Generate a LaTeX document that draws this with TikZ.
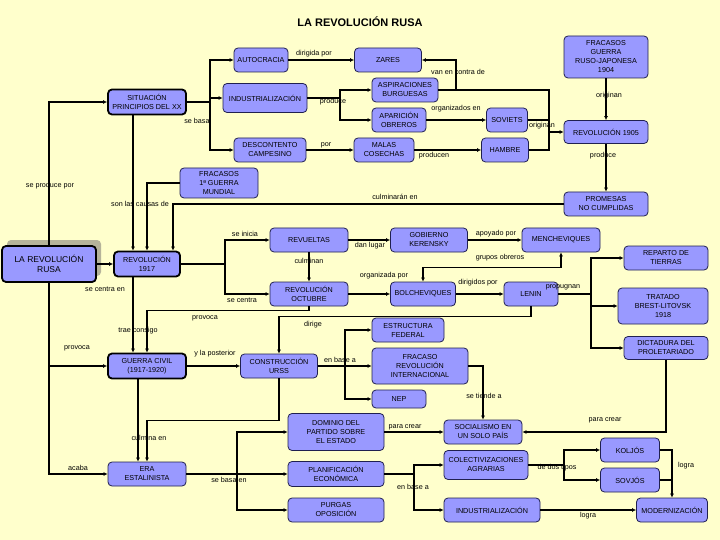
\documentclass[tikz,border=0pt]{standalone}
\usepackage{fontspec}
\setmainfont{Liberation Sans}
\usetikzlibrary{arrows.meta,shadows}
\definecolor{fondo}{HTML}{FFFFCC}
\definecolor{lila}{HTML}{9999FF}
\definecolor{borde}{HTML}{202050}
\definecolor{sombra}{HTML}{B5B39A}
\begin{document}
\begin{tikzpicture}[x=1pt, y=-1pt,
    concepto/.style={draw=borde, line width=0.8pt, fill=lila, rounded corners=4pt, align=center, inner sep=1pt, font=\fontsize{7.2}{9}\selectfont},
    principal/.style={concepto, draw=black, line width=1.8pt},
    enlace/.style={font=\fontsize{7.2}{9}\selectfont, inner sep=1pt},
    flecha/.style={-{Latex[length=4pt,width=4pt]}, line width=1.6pt},
    dobleflecha/.style={{Latex[length=4pt,width=4pt]}-{Latex[length=4pt,width=4pt]}, line width=1.6pt},
    linea/.style={line width=1.6pt}
]
\fill[fondo] (0,0) rectangle (720,540);
\node[font=\bfseries\fontsize{11}{13}\selectfont] (titulo) at (360,22) {LA REVOLUCIÓN RUSA};

% causas
\node[concepto, minimum width=54pt, minimum height=24pt] (autocracia) at (261,60) {AUTOCRACIA};
\node[concepto, minimum width=67pt, minimum height=24pt] (zares) at (388,60) {ZARES};
\node[principal, minimum width=78pt, minimum height=25pt] (situacion) at (147,102) {SITUACIÓN\\PRINCIPIOS DEL XX};
\node[concepto, minimum width=84pt, minimum height=29pt] (industrializacion) at (265,98) {INDUSTRIALIZACIÓN};
\node[concepto, minimum width=66pt, minimum height=24pt] (aspiraciones) at (405,90) {ASPIRACIONES\\BURGUESAS};
\node[concepto, minimum width=54pt, minimum height=24pt] (aparicion) at (399,120) {APARICIÓN\\OBREROS};
\node[concepto, minimum width=72pt, minimum height=24pt] (descontento) at (270,150) {DESCONTENTO\\CAMPESINO};
\node[concepto, minimum width=60pt, minimum height=24pt] (malas) at (384,150) {MALAS\\COSECHAS};
\node[concepto, minimum width=41pt, minimum height=24pt] (soviets) at (507,120) {SOVIETS};
\node[concepto, minimum width=47pt, minimum height=24pt] (hambre) at (505,150) {HAMBRE};
\node[concepto, minimum width=84pt, minimum height=42pt] (rusojaponesa) at (606,57) {FRACASOS\\GUERRA\\RUSO-JAPONESA\\1904};
\node[concepto, minimum width=84pt, minimum height=23pt] (rev1905) at (606,132) {REVOLUCIÓN 1905};
\node[concepto, minimum width=78pt, minimum height=30pt] (mundial) at (219,183) {FRACASOS\\1ª GUERRA\\MUNDIAL};
\node[concepto, minimum width=84pt, minimum height=24pt] (promesas) at (606,204) {PROMESAS\\NO CUMPLIDAS};

% revolución
\node[principal, minimum width=94pt, minimum height=36pt, font=\fontsize{8.5}{10.5}\selectfont,
    drop shadow={shadow xshift=5pt, shadow yshift=6pt, fill=sombra, opacity=1}] (rusa) at (49,264) {LA REVOLUCIÓN\\RUSA};
\node[principal, minimum width=66pt, minimum height=25pt] (rev1917) at (147,264) {REVOLUCIÓN\\1917};
\node[concepto, minimum width=78pt, minimum height=24pt] (revueltas) at (309,240) {REVUELTAS};
\node[concepto, minimum width=78pt, minimum height=24pt] (octubre) at (309,294) {REVOLUCIÓN\\OCTUBRE};
\node[concepto, minimum width=77pt, minimum height=24pt] (kerensky) at (429,240) {GOBIERNO\\KERENSKY};
\node[concepto, minimum width=78pt, minimum height=24pt] (mencheviques) at (561,240) {MENCHEVIQUES};
\node[concepto, minimum width=65pt, minimum height=24pt] (bolcheviques) at (423,294) {BOLCHEVIQUES};
\node[concepto, minimum width=54pt, minimum height=24pt] (lenin) at (531,294) {LENIN};
\node[concepto, minimum width=84pt, minimum height=24pt] (reparto) at (666,258) {REPARTO DE\\TIERRAS};
\node[concepto, minimum width=90pt, minimum height=36pt] (tratado) at (663,306) {TRATADO\\BREST-LITOVSK\\1918};
\node[concepto, minimum width=84pt, minimum height=23pt] (dictadura) at (666,348) {DICTADURA DEL\\PROLETARIADO};

% consecuencias
\node[principal, minimum width=78pt, minimum height=25pt] (guerra) at (147,366) {GUERRA CIVIL\\(1917-1920)};
\node[concepto, minimum width=77pt, minimum height=24pt] (urss) at (279,366) {CONSTRUCCIÓN\\URSS};
\node[concepto, minimum width=72pt, minimum height=24pt] (federal) at (408,330) {ESTRUCTURA\\FEDERAL};
\node[concepto, minimum width=96pt, minimum height=36pt] (internacional) at (420,366) {FRACASO\\REVOLUCIÓN\\INTERNACIONAL};
\node[concepto, minimum width=54pt, minimum height=18pt] (nep) at (399,399) {NEP};
\node[concepto, minimum width=78pt, minimum height=24pt] (socialismo) at (483,432) {SOCIALISMO EN\\UN SOLO PAÍS};
\node[concepto, minimum width=78pt, minimum height=24pt] (era) at (147,474) {ERA\\ESTALINISTA};
\node[concepto, minimum width=96pt, minimum height=37pt] (dominio) at (336,432) {DOMINIO DEL\\PARTIDO SOBRE\\EL ESTADO};
\node[concepto, minimum width=96pt, minimum height=25pt] (planificacion) at (336,474) {PLANIFICACIÓN\\ECONÓMICA};
\node[concepto, minimum width=96pt, minimum height=24pt] (purgas) at (336,510) {PURGAS\\OPOSICIÓN};
\node[concepto, minimum width=84pt, minimum height=29pt] (colectivizaciones) at (486,465) {COLECTIVIZACIONES\\AGRARIAS};
\node[concepto, minimum width=96pt, minimum height=24pt] (industria) at (492,510) {INDUSTRIALIZACIÓN};
\node[concepto, minimum width=59pt, minimum height=24pt] (koljos) at (630,450) {KOLJÓS};
\node[concepto, minimum width=59pt, minimum height=24pt] (sovjos) at (630,480) {SOVJÓS};
\node[concepto, minimum width=71pt, minimum height=24pt] (modernizacion) at (672,510) {MODERNIZACIÓN};

% enlaces
\node[enlace] (eDirigida) at (314,54) {dirigida por};
\node[enlace] (eContra) at (458,72) {van en contra de};
\node[enlace] (eProduce) at (333,102) {produce};
\node[enlace] (eBasa) at (197,121) {se basa};
\node[enlace] (eOrganizados) at (456,109) {organizados en};
\node[enlace] (eOriginan) at (542,126) {originan};
\node[enlace] (eOriginanRJ) at (609,96) {originan};
\node[enlace] (ePor) at (326,145) {por};
\node[enlace] (eProducen) at (434,156) {producen};
\node[enlace] (eProduce1905) at (603,156) {produce};
\node[enlace] (eProducePor) at (50,186) {se produce por};
\node[enlace] (eCausas) at (140,204) {son las causas de};
\node[enlace] (eCulminaran) at (395,197) {culminarán en};
\node[enlace] (eInicia) at (245,234) {se inicia};
\node[enlace] (eLugar) at (370,246) {dan lugar};
\node[enlace] (eApoyado) at (496,234) {apoyado por};
\node[enlace] (eCulminan) at (309,261) {culminan};
\node[enlace] (eGrupos) at (500,258) {grupos obreros};
\node[enlace] (eOrganizada) at (384,276) {organizada por};
\node[enlace] (eDirigidos) at (478,283) {dirigidos por};
\node[enlace] (ePropugnan) at (563,287) {propugnan};
\node[enlace] (eCentraEn) at (105,289) {se centra en};
\node[enlace] (eCentra) at (242,300) {se centra};
\node[enlace] (eProvoca) at (205,318) {provoca};
\node[enlace] (eDirige) at (313,325) {dirige};
\node[enlace] (eTrae) at (138,331) {trae consigo};
\node[enlace] (eProvocaRusa) at (77,348) {provoca};
\node[enlace] (ePosterior) at (215,354) {y la posterior};
\node[enlace] (eBaseURSS) at (340,360) {en base a};
\node[enlace] (eTiende) at (484,396) {se tiende a};
\node[enlace] (eCrear) at (405,427) {para crear};
\node[enlace] (eCrearDict) at (605,420) {para crear};
\node[enlace] (eCulmina) at (149,438) {culmina en};
\node[enlace] (eAcaba) at (78,468) {acaba};
\node[enlace] (eTipos) at (557,468) {de dos tipos};
\node[enlace] (eLograK) at (686,466) {logra};
\node[enlace] (eBasaEn) at (229,480) {se basa en};
\node[enlace] (eBasePlan) at (413,487) {en base a};
\node[enlace] (eLogra) at (588,516) {logra};

% conectores: causas
\coordinate (jSituacion) at (210,102);
\draw[linea] (situacion) -- (jSituacion);
\draw[flecha] (jSituacion) |- (autocracia);
\draw[flecha] (jSituacion) |- (industrializacion);
\draw[flecha] (jSituacion) |- (descontento);
\draw[flecha] (autocracia) -- (zares);
\coordinate (jIndustria) at (340,98);
\draw[linea] (industrializacion) -- (jIndustria);
\draw[flecha] (jIndustria) |- (aspiraciones);
\draw[flecha] (jIndustria) |- (aparicion);
\draw[flecha] (descontento) -- (malas);
\coordinate (jContra) at (456,90);
\coordinate (jAsp) at (549,90);
\coordinate (j1905) at (549,132);
\draw[linea] (aspiraciones) -- (jAsp) -- (j1905);
\draw[flecha] (jContra) |- (zares);
\draw[flecha] (aparicion) -- (soviets);
\draw[flecha] (malas) -- (hambre);
\draw[linea] (soviets) -- (soviets -| jAsp);
\draw[linea] (hambre) -- (hambre -| jAsp) -- (j1905);
\draw[flecha] (j1905) -- (rev1905);
\draw[flecha] (rusojaponesa) -- (rev1905);
\draw[flecha] (rev1905) -- (promesas);
\draw[flecha] (promesas.west) -| ([xshift=26pt]rev1917.north);
\draw[flecha] (mundial.west) -| (rev1917.north);
\draw[flecha] ([xshift=-14pt]situacion.south) -- ([xshift=-14pt]rev1917.north);
\draw[flecha] (rusa.north) |- (situacion.west);
\draw[flecha] (rusa.south) |- (guerra.west);
\draw[flecha] (rusa.south) |- (era.west);
\draw[flecha] (rusa) -- (rev1917);

% conectores: revolución
\coordinate (j1917) at (225,264);
\draw[linea] (rev1917) -- (j1917);
\draw[flecha] (j1917) |- (revueltas);
\draw[flecha] (j1917) |- (octubre);
\draw[flecha] (revueltas) -- (octubre);
\draw[flecha] (revueltas) -- (kerensky);
\draw[flecha] (kerensky) -- (mencheviques);
\draw[flecha] (octubre) -- (bolcheviques);
\draw[flecha] (bolcheviques) -- (lenin);
\draw[dobleflecha] (mencheviques.south) -- ++(0,15) -| (bolcheviques.north);
\draw[flecha] (lenin.south) -- ++(0,10) -| (urss.north);
\coordinate (jLenin) at (591,294);
\draw[linea] (lenin) -- (jLenin);
\draw[flecha] (jLenin) |- (reparto);
\draw[flecha] (jLenin) |- (tratado);
\draw[flecha] (jLenin) |- (dictadura);
\draw[flecha] (dictadura.south) |- (socialismo.east);

% conectores: consecuencias
\draw[flecha] (octubre.south) -- ++(0,4) -| (guerra.north);
\draw[flecha] ([xshift=-14pt]rev1917.south) -- ([xshift=-14pt]guerra.north);
\draw[flecha] (guerra) -- (urss);
\coordinate (jURSS) at (345,366);
\draw[linea] (urss) -- (jURSS);
\draw[flecha] (jURSS) |- (federal);
\draw[flecha] (jURSS) -- (internacional);
\draw[flecha] (jURSS) |- (nep);
\draw[flecha] (internacional.east) -| (socialismo.north);
\draw[flecha] ([xshift=-9pt]guerra.south) -- ([xshift=-9pt]era.north);
\draw[flecha] (urss.south) -- ++(0,42) -| (era.north);
\coordinate (jEra) at (237,474);
\draw[linea] (era) -- (jEra);
\draw[flecha] (jEra) |- (dominio);
\draw[flecha] (jEra) -- (planificacion);
\draw[flecha] (jEra) |- (purgas);
\draw[flecha] (dominio) -- (socialismo);
\coordinate (jPlan) at (414,474);
\draw[linea] (planificacion) -- (jPlan);
\draw[flecha] (jPlan) |- (colectivizaciones);
\draw[flecha] (jPlan) |- (industria);
\coordinate (jTipos) at (564,465);
\draw[linea] (colectivizaciones) -- (jTipos);
\draw[flecha] (jTipos) |- (koljos);
\draw[flecha] (jTipos) |- (sovjos);
\draw[flecha] (koljos.east) -| (modernizacion.north);
\draw[linea] (sovjos) -- (sovjos -| modernizacion);
\draw[flecha] (industria) -- (modernizacion);
\end{tikzpicture}
\end{document}
